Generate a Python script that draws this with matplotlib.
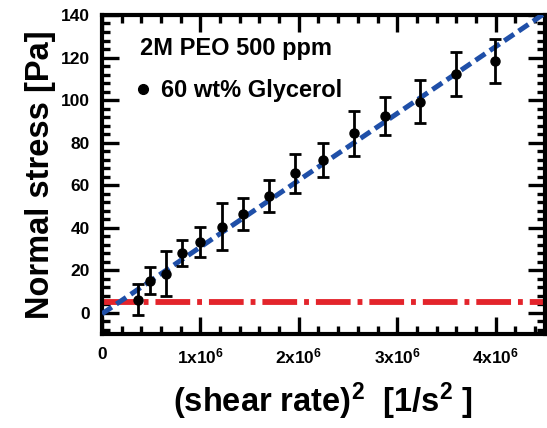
import matplotlib
matplotlib.use('Agg')
import matplotlib.pyplot as plt
import numpy as np
from matplotlib.ticker import MultipleLocator, FixedLocator
from matplotlib.lines import Line2D

plt.rcParams['font.family'] = ['Liberation Sans', 'DejaVu Sans']
plt.rcParams['font.weight'] = 'bold'
plt.rcParams['mathtext.fontset'] = 'custom'
plt.rcParams['mathtext.rm'] = 'Liberation Sans:bold'
plt.rcParams['mathtext.it'] = 'Liberation Sans:bold'
plt.rcParams['mathtext.bf'] = 'Liberation Sans:bold'
plt.rcParams['lines.scale_dashes'] = False

# data
shear_sq = [0.364e6, 0.49e6, 0.653e6, 0.813e6, 1.0e6, 1.22e6, 1.435e6, 1.695e6,
            1.965e6, 2.247e6, 2.56e6, 2.88e6, 3.23e6, 3.6e6, 3.99e6]
stress = [6.2, 15.1, 18.4, 28.1, 33.1, 40.5, 46.3, 54.9,
          65.5, 71.8, 84.3, 92.5, 99.1, 112.4, 118.3]
stress_err = [7.4, 6.3, 10.5, 6.0, 7.0, 11.0, 7.6, 7.4,
              9.0, 8.2, 10.7, 8.9, 10.1, 10.4, 10.5]
fit_slope = 31.4e-6
fit_intercept = -0.5
threshold = 5.2

x_ticks = [0, 1e6, 2e6, 3e6, 4e6]
x_labels = ['0', '1x10$^6$', '2x10$^6$', '3x10$^6$', '4x10$^6$']
y_ticks = [0, 20, 40, 60, 80, 100, 120, 140]

fig = plt.figure(figsize=(5.47, 4.28), dpi=100)
ax = fig.add_axes([0.1865, 0.2196, 0.8095, 0.7454])

xfit = np.array([0, 4.5e6])
ax.plot(xfit, fit_slope * xfit + fit_intercept, color='#1f4fa8', lw=3.6,
        dashes=(8.5, 4), zorder=3)
ax.axhline(threshold, color='#e3242b', lw=4.2, dashes=(25, 5, 3.5, 5), zorder=2)
ax.errorbar(shear_sq, stress, yerr=stress_err, fmt='o', color='black',
            ms=6.5, elinewidth=2, capsize=4.5, capthick=2, zorder=4)

ax.set_xlim(0, 4.5e6)
ax.set_ylim(-10, 140)
ax.xaxis.set_major_locator(FixedLocator(x_ticks))
ax.set_xticklabels(x_labels)
ax.xaxis.set_minor_locator(MultipleLocator(0.2e6))
ax.yaxis.set_major_locator(FixedLocator(y_ticks))
ax.yaxis.set_minor_locator(MultipleLocator(4))

ax.tick_params(which='both', direction='in', top=True, right=True, width=2.4)
ax.tick_params(which='major', length=12, labelsize=12.5)
ax.tick_params(axis='x', which='major', pad=9)
ax.tick_params(axis='y', which='major', pad=9)
ax.tick_params(which='minor', length=6)
for s in ax.spines.values():
    s.set_linewidth(3)

ax.set_ylabel('Normal stress [Pa]', fontsize=23.5, fontweight='bold', labelpad=3)
ax.set_xlabel('(shear rate)$^2$  [1/s$^2$ ]', fontsize=23.5, fontweight='bold', labelpad=10)

handle = Line2D([], [], marker='o', ls='none', color='black', ms=7)
leg = ax.legend(handles=[handle], labels=['60 wt% Glycerol'], loc='upper left',
                bbox_to_anchor=(0.064, 0.96), borderaxespad=0,
                title='2M PEO 500 ppm', frameon=False,
                fontsize=17, title_fontsize=17, handletextpad=0.6,
                handlelength=0.3, labelspacing=0.8, alignment='left')
leg.get_title().set_fontweight('bold')

fig.savefig('out.png', dpi=100)
